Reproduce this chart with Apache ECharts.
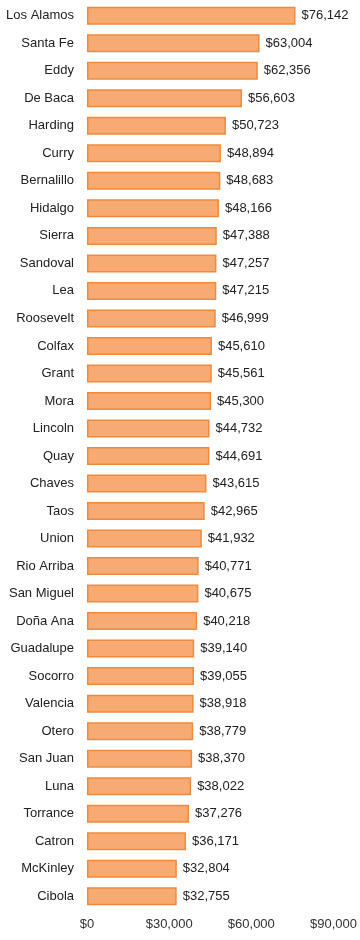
<!DOCTYPE html>
<html>
<head>
<meta charset="utf-8">
<script src="https://cdn.jsdelivr.net/npm/echarts@6/dist/echarts.min.js"></script>
<style>
  html, body { margin: 0; padding: 0; background: #fff; }
  #chart { width: 360px; height: 940px; }
</style>
</head>
<body>
<div id="chart"></div>
<script>
// counties, highest income first
const counties = ["Los Alamos", "Santa Fe", "Eddy", "De Baca", "Harding", "Curry", "Bernalillo", "Hidalgo",
  "Sierra", "Sandoval", "Lea", "Roosevelt", "Colfax", "Grant", "Mora", "Lincoln", "Quay", "Chaves",
  "Taos", "Union", "Rio Arriba", "San Miguel", "Doña Ana", "Guadalupe", "Socorro", "Valencia", "Otero",
  "San Juan", "Luna", "Torrance", "Catron", "McKinley", "Cibola"];
const incomes = [76142, 63004, 62356, 56603, 50723, 48894, 48683, 48166,
  47388, 47257, 47215, 46999, 45610, 45561, 45300, 44732, 44691, 43615,
  42965, 41932, 40771, 40675, 40218, 39140, 39055, 38918, 38779,
  38370, 38022, 37276, 36171, 32804, 32755];
const axisMin = 0, axisMax = 90000, axisStep = 30000;

const font = "'Liberation Sans', sans-serif";
const money = v => "$" + v.toLocaleString("en-US");

const chart = echarts.init(document.getElementById("chart"));
chart.setOption({
  animation: false,
  grid: { left: 87, right: 24, top: 2, bottom: 30 },
  xAxis: {
    type: "value", min: axisMin, max: axisMax, interval: axisStep,
    splitLine: { show: false }, axisLine: { show: false }, axisTick: { show: false },
    axisLabel: { formatter: money, color: "#333", fontFamily: font, fontSize: 13, margin: 8 }
  },
  yAxis: {
    type: "category", data: counties, inverse: true,
    axisLine: { show: false }, axisTick: { show: false },
    axisLabel: { color: "#222", fontFamily: font, fontSize: 13, margin: 13 }
  },
  series: [{
    type: "bar", data: incomes, barWidth: 18,
    itemStyle: { color: "#f7aa72", borderColor: "#f08a3c", borderWidth: 1.5 },
    label: { show: true, position: "right", distance: 6, formatter: p => money(p.value),
      color: "#222", fontFamily: font, fontSize: 13 }
  }]
});
</script>
</body>
</html>
